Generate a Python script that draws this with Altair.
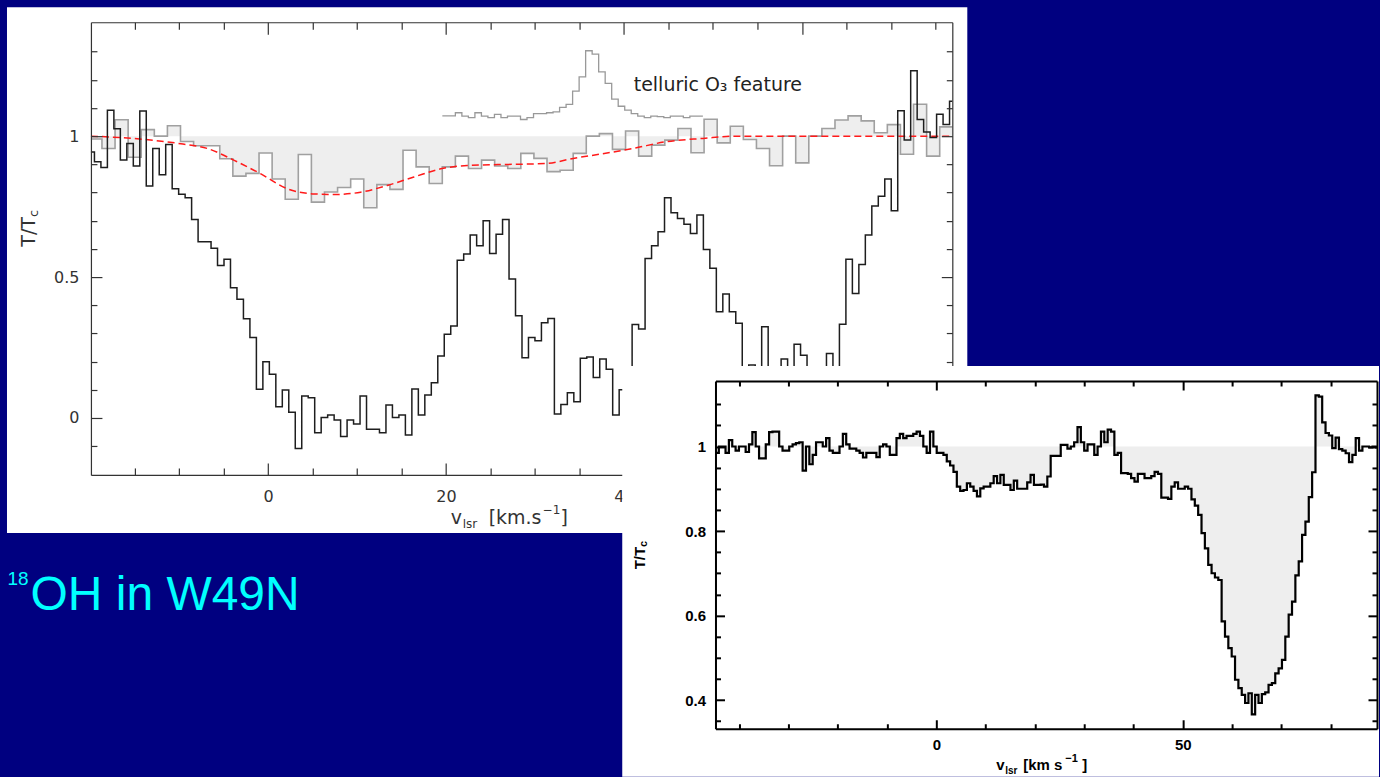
import altair as alt
import pandas as pd

NAVY = "#000080"

# ---------------- left panel: 18OH 1637 MHz towards W49N ----------------
# black: 18OH absorption, channel edges start at BLACK_EDGE0, width BLACK_DV (km/s)
BLACK_EDGE0, BLACK_DV = -20.234, 0.728
black_t = [
    0.944, 0.909, 0.889, 1.092, 1.026, 0.915, 0.974, 0.894, 1.089, 0.823,
    0.956, 0.863, 0.970, 0.813, 0.794, 0.781, 0.704, 0.625, 0.625, 0.602,
    0.541, 0.563, 0.462, 0.421, 0.352, 0.286, 0.102, 0.200, 0.155, 0.040,
    0.099, 0.020, -0.108, 0.078, 0.072, -0.052, 0.002, 0.011, -0.007, -0.066,
    -0.007, -0.021, 0.078, -0.040, -0.040, -0.052, 0.046, 0.002, 0.011, -0.060,
    0.103, 0.011, 0.082, 0.125, 0.220, 0.297, 0.326, 0.560, 0.582, 0.649,
    0.611, 0.700, 0.584, 0.652, 0.704, 0.493, 0.363, 0.214, 0.286, 0.274,
    0.338, 0.353, 0.014, 0.048, 0.090, 0.058, 0.212, 0.216, 0.144, 0.209,
    0.173, 0.011, 0.100, 0.100, 0.332, 0.316, 0.566, 0.611, 0.661, 0.781,
    0.728, 0.708, 0.687, 0.655, 0.720, 0.598, 0.531, 0.377, 0.440, 0.377,
    0.336, 0.100, 0.188, 0.100, 0.324, 0.050, 0.100, 0.209, 0.100, 0.262,
    0.223, 0.100, 0.050, 0.100, 0.229, 0.100, 0.333, 0.563, 0.442, 0.545,
    0.649, 0.752, 0.787, 0.848, 0.735, 1.090, 0.986, 1.232, 1.059, 1.015,
    0.995, 1.078, 1.041, 1.124,
]

# grey: comparison spectrum on a coarser grid
GREY_EDGE0, GREY_DV = -20.132, 1.471
grey_t = [
    0.990, 0.956, 1.058, 0.925, 1.023, 1.000, 1.037, 0.981, 0.966, 0.966,
    0.920, 0.858, 0.868, 0.940, 0.848, 0.776, 0.935, 0.766, 0.802, 0.818,
    0.848, 0.746, 0.828, 0.811, 0.950, 0.891, 0.832, 0.891, 0.929, 0.885,
    0.915, 0.894, 0.885, 0.939, 0.921, 0.874, 0.879, 0.939, 1.000, 1.009,
    0.953, 1.018, 0.929, 0.968, 0.986, 1.027, 0.941, 1.060, 0.976, 1.035,
    0.988, 0.956, 0.895, 1.000, 0.905, 1.000, 1.027, 1.057, 1.072, 1.054,
    1.012, 1.041, 0.936, 1.113, 0.929, 1.033,
]

# thin grey: telluric ozone line, shifted up
O3_EDGE0, O3_DV = 19.59, 0.732
o3_t = [
    1.072, 1.072, 1.083, 1.071, 1.066, 1.083, 1.071, 1.066, 1.077, 1.066,
    1.071, 1.071, 1.059, 1.066, 1.080, 1.080, 1.083, 1.086, 1.102, 1.113,
    1.160, 1.210, 1.303, 1.291, 1.228, 1.187, 1.131, 1.106, 1.092, 1.080,
    1.071, 1.066, 1.071, 1.069, 1.066, 1.071, 1.071, 1.066, 1.071, 1.071,
]

# red dashed: smooth model of the grey spectrum
model_v = [-19.9, -16.2, -12.8, -9.8, -6.8, -3.8, -0.8, 2.2, 5.2, 7.4, 10.4, 13.4,
           16.4, 19.4, 22.4, 27.5, 31.3, 34.3, 37.3, 41.0, 44.7, 48.9, 52.6, 76.9]
model_t = [1.000, 0.994, 0.985, 0.973, 0.956, 0.914, 0.866, 0.813, 0.795, 0.793, 0.801, 0.825,
           0.855, 0.884, 0.896, 0.900, 0.903, 0.921, 0.936, 0.956, 0.980, 0.992, 1.000, 1.000]

# ---------------- right panel: main-line spectrum ----------------
RIGHT_EDGE0, RIGHT_DV = -44.8, 0.68
right_t = [
    0.985, 1.0, 1.0, 0.985, 1.015, 1.0, 0.99, 1.0, 1.0, 0.987,
    1.005, 1.034, 1.0, 0.972, 0.972, 1.005, 1.034, 1.035, 1.035, 1.0,
    0.99, 0.99, 1.0, 1.005, 1.008, 1.01, 0.943, 1.0, 0.958, 0.98,
    1.01, 1.01, 1.0, 1.02, 0.99, 0.985, 0.985, 1.0, 1.03, 1.005,
    0.995, 0.995, 0.99, 0.985, 0.974, 0.985, 0.985, 0.985, 0.975, 1.0,
    1.005, 1.0, 0.98, 0.98, 1.02, 1.03, 1.02, 1.025, 1.025, 1.03,
    1.035, 1.025, 1.0, 0.985, 1.035, 1.0, 0.985, 0.985, 0.98, 0.965,
    0.955, 0.94, 0.905, 0.895, 0.897, 0.913, 0.905, 0.895, 0.882, 0.901,
    0.905, 0.905, 0.913, 0.93, 0.913, 0.933, 0.909, 0.909, 0.897, 0.919,
    0.9, 0.9, 0.9, 0.915, 0.933, 0.909, 0.909, 0.91, 0.905, 0.929,
    0.978, 0.978, 0.978, 1.004, 1.004, 0.995, 1.0, 1.01, 1.046, 1.01,
    0.99, 1.005, 1.005, 0.98, 1.0, 1.035, 1.01, 1.04, 1.035, 0.98,
    0.985, 0.937, 0.937, 0.935, 0.925, 0.917, 0.935, 0.935, 0.925, 0.925,
    0.93, 0.94, 0.935, 0.879, 0.879, 0.876, 0.905, 0.915, 0.9, 0.9,
    0.905, 0.9, 0.875, 0.86, 0.838, 0.795, 0.759, 0.72, 0.70, 0.69,
    0.684, 0.586, 0.55, 0.523, 0.503, 0.448, 0.428, 0.412, 0.393, 0.416,
    0.366, 0.412, 0.393, 0.414, 0.418, 0.436, 0.44, 0.463, 0.475, 0.495,
    0.55, 0.602, 0.633, 0.695, 0.728, 0.791, 0.822, 0.88, 0.939, 1.121,
    1.118, 1.057, 1.032, 1.026, 0.996, 1.021, 0.994, 0.99, 0.984, 0.963,
    0.98, 1.02, 0.99, 1.0, 1.0, 0.998, 1.0, 0.998,
]


def channels(edge0, dv, values, lo=None, hi=None):
    """Histogram outline: left edge of every channel plus the closing edge,
    trimmed to the visible velocity range."""
    v = [edge0 + i * dv for i in range(len(values) + 1)]
    t = list(values) + [values[-1]]
    d = pd.DataFrame({"v": v, "t": t})
    if lo is not None:
        d["v"] = d["v"].clip(lo, hi)
    return d


L_VMIN, L_VMAX = -19.9, 76.9
black_df = channels(BLACK_EDGE0, BLACK_DV, black_t, L_VMIN, L_VMAX)
grey_df = channels(GREY_EDGE0, GREY_DV, grey_t, L_VMIN, L_VMAX)
o3_df = channels(O3_EDGE0, O3_DV, o3_t)
model_df = pd.DataFrame({"v": model_v, "t": model_t})
right_df = channels(RIGHT_EDGE0, RIGHT_DV, right_t)
one = pd.DataFrame({"a": [0]})


def frame_axis(orient, offset, values, test, major, minor, color, width):
    # inward ticks: axis of the opposite orientation shifted onto the frame edge
    return alt.Axis(orient=orient, offset=offset, values=values, labels=False,
                    title=None, grid=False, domain=True, domainColor=color,
                    domainWidth=width, tickColor=color, tickWidth=width,
                    tickSize={"condition": {"test": test, "value": major}, "value": minor},
                    zindex=1)


def text(s, x, y, size, font, color, weight="normal", angle=0, align="left",
         baseline="alphabetic"):
    return alt.Chart(one).mark_text(
        text=s, font=font, fontSize=size, fontWeight=weight, color=color,
        angle=angle, align=align, baseline=baseline,
    ).encode(x=alt.value(x), y=alt.value(y))


# ---------------- left panel ----------------
# The plot box is LH pixels tall; the panel reports a shorter layout height so
# that the second panel can overlap its lower right corner.
LW, LH = 862, 453
L_LAYOUT_H = 359
LGREY = "#333333"
lx = alt.Scale(domain=[L_VMIN, L_VMAX], nice=False, zero=False)
ly = alt.Scale(domain=[-0.202, 1.404], nice=False, zero=False, range=[LH, 0])

lx_ticks = list(range(-15, 80, 5))
ly_ticks = [round(-0.1 + 0.1 * i, 2) for i in range(15)]
LX_MAJOR = "datum.value % 20 === 0"
LY_MAJOR = "abs(datum.value * 2 - round(datum.value * 2)) < 0.001"

l_label_x = alt.Axis(orient="bottom", offset=LH - L_LAYOUT_H, values=[0, 20, 40, 60],
                     ticks=False, domain=False, grid=False, labelFont="DejaVu Sans",
                     labelFontSize=16, labelColor=LGREY, labelPadding=14, title=None,
                     zindex=1, labelExpr="datum.value + ''")
l_label_y = alt.Axis(orient="left", values=[0, 0.5, 1], ticks=False, domain=False,
                     grid=False, labelFont="DejaVu Sans", labelFontSize=16,
                     labelColor=LGREY, labelPadding=12, title=None, zindex=1,
                     labelExpr="datum.value + ''")

left_bg = alt.Chart(one).mark_rect(color="white").encode(
    x=alt.value(-84), x2=alt.value(877), y=alt.value(-15), y2=alt.value(511))

grey_fill = alt.Chart(grey_df).mark_area(
    interpolate="step-after", color="#eeeeee"
).encode(x=alt.X("v:Q", scale=lx, axis=None), y=alt.Y("t:Q", scale=ly, axis=None),
         y2=alt.datum(1.0))

grey_line = alt.Chart(grey_df).mark_line(
    interpolate="step-after", color="#a0a0a0", strokeWidth=1.6
).encode(
    x=alt.X("v:Q", scale=lx, axis=frame_axis("top", -LH, lx_ticks, LX_MAJOR, 12, 7, LGREY, 1.2)),
    y=alt.Y("t:Q", scale=ly, axis=frame_axis("right", -LW, ly_ticks, LY_MAJOR, 11, 6, LGREY, 1.2)),
)

o3_line = alt.Chart(o3_df).mark_line(
    interpolate="step-after", color="#999999", strokeWidth=1.3
).encode(
    x=alt.X("v:Q", scale=lx, axis=frame_axis("bottom", -L_LAYOUT_H, lx_ticks, LX_MAJOR, 12, 7, LGREY, 1.2)),
    y=alt.Y("t:Q", scale=ly, axis=frame_axis("left", -LW, ly_ticks, LY_MAJOR, 11, 6, LGREY, 1.2)),
)

model_line = alt.Chart(model_df).mark_line(
    interpolate="monotone", color="#ff1a1a", strokeDash=[7, 4], strokeWidth=1.5
).encode(x=alt.X("v:Q", scale=lx, axis=None), y=alt.Y("t:Q", scale=ly, axis=None))

black_line = alt.Chart(black_df).mark_line(
    interpolate="step-after", color="#1e1e1e", strokeWidth=1.5
).encode(x=alt.X("v:Q", scale=lx, axis=l_label_x), y=alt.Y("t:Q", scale=ly, axis=l_label_y))

o3_label = alt.Chart(one).mark_text(
    text="telluric O₃ feature", font="DejaVu Sans", fontSize=19, color="#222222",
    align="left", baseline="middle",
).encode(x=alt.XDatum(41.1, scale=lx, axis=None), y=alt.YDatum(1.181, scale=ly, axis=None))

left_titles = [
    text("T/T", -62, 195, 19, "DejaVu Sans", LGREY, angle=270, align="right", baseline="middle"),
    text("c", -57, 195, 13, "DejaVu Sans", LGREY, angle=270, align="left", baseline="middle"),
    text("v", 360, 502, 19, "DejaVu Sans", LGREY),
    text("lsr", 372, 506, 12, "DejaVu Sans", LGREY),
    text("[km.s", 398, 502, 19, "DejaVu Sans", LGREY),
    text("−1", 452, 492, 12, "DejaVu Sans", LGREY),
    text("]", 470, 502, 19, "DejaVu Sans", LGREY),
    # slide caption below the panel
    text("18", -83.5, 563, 19, "Liberation Sans", "#00ffff"),
    text("OH in W49N", -60.5, 588, 48, "Liberation Sans", "#00ffff"),
]

left_panel = alt.layer(
    left_bg, grey_fill, grey_line, o3_line, model_line, black_line, o3_label, *left_titles
).resolve_axis(x="independent", y="independent").properties(width=LW, height=L_LAYOUT_H)

# ---------------- right panel ----------------
RW, RH = 662, 348
rx = alt.Scale(domain=[-44.8, 89.4], nice=False, zero=False)
ry = alt.Scale(domain=[0.332, 1.155], nice=False, zero=False)

rx_ticks = list(range(-40, 90, 10))
ry_ticks = [round(0.35 + 0.05 * i, 2) for i in range(16)]
RX_MAJOR = "datum.value % 50 === 0"
RY_MAJOR = "abs(datum.value * 5 - round(datum.value * 5)) < 0.001"

r_label_x = alt.Axis(orient="bottom", values=[0, 50], ticks=False, domain=False, grid=False,
                     labelFont="Liberation Sans", labelFontSize=15, labelFontWeight="bold",
                     labelColor="black", labelPadding=9, title=None, zindex=1,
                     labelExpr="datum.value + ''")
r_label_y = alt.Axis(orient="left", values=[0.4, 0.6, 0.8, 1.0], ticks=False, domain=False,
                     grid=False, labelFont="Liberation Sans", labelFontSize=15,
                     labelFontWeight="bold", labelColor="black", labelPadding=10,
                     title=None, zindex=1, labelExpr="datum.value + ''")

right_bg = alt.Chart(one).mark_rect(color="white").encode(
    x=alt.value(-93.3), x2=alt.value(664), y=alt.value(-15), y2=alt.value(396))

right_fill = alt.Chart(right_df).mark_area(
    interpolate="step-after", color="#eeeeee", clip=True
).encode(x=alt.X("v:Q", scale=rx, axis=None), y=alt.Y("t:Q", scale=ry, axis=None),
         y2=alt.datum(1.0))

right_frame_a = alt.Chart(right_df).mark_line(opacity=0).encode(
    x=alt.X("v:Q", scale=rx, axis=frame_axis("top", -RH, rx_ticks, RX_MAJOR, 9, 5, "black", 2)),
    y=alt.Y("t:Q", scale=ry, axis=frame_axis("right", -RW, ry_ticks, RY_MAJOR, 9, 5, "black", 2)),
)
right_frame_b = alt.Chart(right_df).mark_line(opacity=0).encode(
    x=alt.X("v:Q", scale=rx, axis=frame_axis("bottom", -RH, rx_ticks, RX_MAJOR, 9, 5, "black", 2)),
    y=alt.Y("t:Q", scale=ry, axis=frame_axis("left", -RW, ry_ticks, RY_MAJOR, 9, 5, "black", 2)),
)

right_line = alt.Chart(right_df).mark_line(
    interpolate="step-after", color="black", strokeWidth=2.2, clip=True
).encode(x=alt.X("v:Q", scale=rx, axis=r_label_x), y=alt.Y("t:Q", scale=ry, axis=r_label_y))

right_titles = [
    text("T/T", -76, 166, 15, "Liberation Sans", "black", "bold", 270, "right", "middle"),
    text("c", -72, 166, 11, "Liberation Sans", "black", "bold", 270, "left", "middle"),
    text("v", 281, 389, 15, "Liberation Sans", "black", "bold"),
    text("lsr", 290, 393, 10, "Liberation Sans", "black", "bold"),
    text("[km s", 308, 389, 15, "Liberation Sans", "black", "bold"),
    text("−1", 350, 381, 11, "Liberation Sans", "black", "bold"),
    text("]", 367, 389, 15, "Liberation Sans", "black", "bold"),
]

right_panel = alt.layer(
    right_bg, right_fill, right_frame_a, right_frame_b, right_line, *right_titles
).resolve_axis(x="independent", y="independent").properties(width=RW, height=RH)

spacer = alt.Chart(one).mark_point(opacity=0).encode(
    x=alt.value(0), y=alt.value(0)).properties(width=625, height=10)

bottom_row = alt.hconcat(spacer, right_panel, spacing=0, bounds="flush")

chart = alt.vconcat(left_panel, bottom_row, spacing=0, bounds="flush").properties(
    background=NAVY,
    padding={"left": 7, "top": 7, "right": 0, "bottom": 0},
).configure_view(strokeWidth=0)

chart.save("out.html", embed_options={"renderer": "svg", "actions": False})
